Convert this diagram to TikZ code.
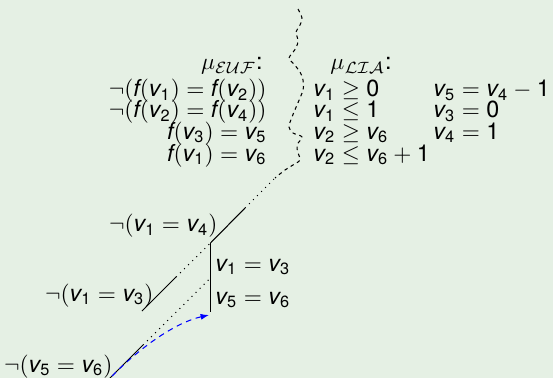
\documentclass[tikz,border=0pt]{standalone}
\usepackage{fontspec}
\setmainfont{TeX Gyre Heros}
\usetikzlibrary{arrows.meta}
\definecolor{bg}{RGB}{229,240,228}
\newcommand\vv[1]{\mathit{v}_{\mathrm{#1}}}
\newcommand\ff{\mathit{f}}
\newcommand\dg[1]{\mathrm{#1}}
\begin{document}
\begin{tikzpicture}[x=0.4292pt,y=-0.4292pt,
  txt/.style={inner sep=0pt},
  lft/.style={txt,anchor=base east},
  rgt/.style={txt,anchor=base west},
  solidl/.style={line width=0.45pt},
  dotl/.style={line width=0.45pt,dotted},
  wavel/.style={line width=0.45pt,dash pattern=on 1.5pt off 1.6pt},
  bluearr/.style={blue,line width=0.45pt,dash pattern=on 2.4pt off 2pt,-{Latex[length=3.6pt,width=2.6pt]}}]
\fill[bg] (0,0) rectangle (553,378);
\useasboundingbox (0,0) rectangle (553,378);
% upper texts
\node[lft] (euf) at (263,70) {$\mu_{\mathcal{EUF}}$:};
\node[lft] (e1) at (267,97) {$\neg(\ff(\vv1)=\ff(\vv2))$};
\node[lft] (e2) at (267,118) {$\neg(\ff(\vv2)=\ff(\vv4))$};
\node[lft] (e3) at (267,139) {$\ff(\vv3)=\vv5$};
\node[lft] (e4) at (267,161) {$\ff(\vv1)=\vv6$};
\node[rgt] (lia) at (330,70) {$\mu_{\mathcal{LIA}}$:};
\node[rgt] (l1) at (313,97) {$\vv1\geq \dg0$};
\node[rgt] (l2) at (313,118) {$\vv1\leq \dg1$};
\node[rgt] (l3) at (313,139) {$\vv2\geq \vv6$};
\node[rgt] (l4) at (313,161) {$\vv2\leq \vv6+\dg1$};
\node[rgt] (m1) at (433,97) {$\vv5=\vv4-\dg1$};
\node[rgt] (m2) at (433,118) {$\vv3=\dg0$};
\node[rgt] (m3) at (433,139) {$\vv4=\dg1$};
% lower texts
\node[lft] (n14) at (218,232) {$\neg(\vv1=\vv4)$};
\node[rgt] (p13) at (215,271) {$\vv1=\vv3$};
\node[rgt] (p56) at (215,304) {$\vv5=\vv6$};
\node[lft] (n13) at (154,301) {$\neg(\vv1=\vv3)$};
\node[lft] (n56) at (113,372) {$\neg(\vv5=\vv6)$};
% points
\coordinate (P0) at (109,379);
\coordinate (P1) at (143,345);
\coordinate (V2) at (210.5,278);
\coordinate (Q0) at (142,311);
\coordinate (Q1) at (176,277);
\coordinate (V1) at (210.5,243);
\coordinate (Vb) at (210.5,312);
\coordinate (R1) at (245,208);
\coordinate (W) at (275,178);
\coordinate (Bs) at (112,376);
\coordinate (Be) at (209,315);
% branches
\draw[solidl] (P0) -- (P1);
\draw[dotl] (P1) -- (V2);
\draw[solidl] (Q0) -- (Q1);
\draw[dotl] (Q1) -- (V1);
\draw[solidl] (V1) -- (Vb);
\draw[solidl] (V1) -- (R1);
\draw[dotl] (R1) -- (W);
% wavy separator
\draw[wavel] plot[smooth,tension=0.55] coordinates {(298,9) (302,18) (300,25) (296,32) (298,40) (296,48) (289,58) (293,63) (300,72) (303,80) (303,90) (297,105) (292,117) (289,127) (293,133) (302,137) (297,145) (298,153) (300,160) (293,165) (285,170) (275,178)};
% blue arrow
\draw[bluearr] (Bs) .. controls (145,343) and (178,322) .. (Be);
\end{tikzpicture}
\end{document}
